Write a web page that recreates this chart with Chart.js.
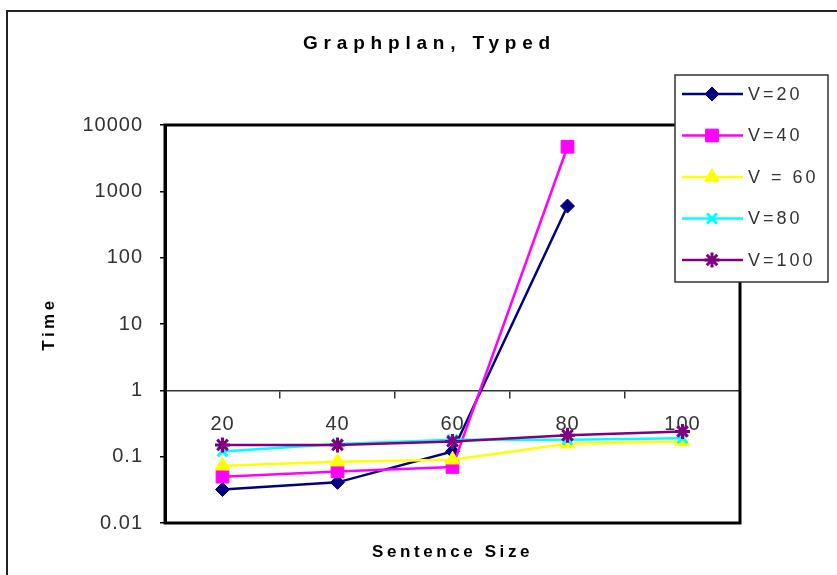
<!DOCTYPE html>
<html>
<head>
<meta charset="utf-8">
<script src="https://cdn.jsdelivr.net/npm/chart.js@4/dist/chart.umd.min.js"></script>
<style>
  html, body { margin: 0; padding: 0; background: #fff; }
  canvas { display: block; }
</style>
</head>
<body>
<canvas id="c" width="837" height="575"></canvas>
<script>
// ---- data ----
const categories = ['20', '40', '60', '80', '100'];
const seriesLabels = ['V=20', 'V=40', 'V = 60', 'V=80', 'V=100'];
const v20  = [0.032, 0.041, 0.12, 600, null];
const v40  = [0.05, 0.06, 0.07, 4700, null];
const v60  = [0.073, 0.084, 0.09, 0.157, 0.17];
const v80  = [0.12, 0.155, 0.18, 0.18, 0.19];
const v100 = [0.15, 0.15, 0.17, 0.21, 0.24];
const yTicks = [0.01, 0.1, 1, 10, 100, 1000, 10000];
const yTickLabels = ['0.01', '0.1', '1', '10', '100', '1000', '10000'];
const chartTitle = 'Graphplan, Typed';
const xTitle = 'Sentence Size';
const yTitle = 'Time';

// ---- styles ----
const colors = ['#000080', '#FF00FF', '#FFFF00', '#00FFFF', '#800080'];
const pointStyles = ['rectRot', 'rect', 'triangle', 'crossRot', 'star'];
const pointRadii = [7, 9, 8.5, 7, 7.5];
const pointBorders = [1, 1, 1, 3, 3];
const FONT = "'Liberation Sans', Arial, sans-serif";

// letter spacing per scale (Chart.js has no option for it)
const LS = { y: { title: '3.5px', ticks: '1px' }, x: { ticks: '1px' }, x2: { title: '3.6px' } };
const SP = Chart.Scale.prototype;
const origDrawTitle = SP.drawTitle, origDrawLabels = SP.drawLabels;
SP.drawTitle = function () {
  const ls = LS[this.id];
  this.ctx.save();
  this.ctx.letterSpacing = (ls && ls.title) || '0px';
  origDrawTitle.apply(this, arguments);
  this.ctx.restore();
};
SP.drawLabels = function () {
  const ls = LS[this.id];
  this.ctx.save();
  this.ctx.letterSpacing = (ls && ls.ticks) || '0px';
  origDrawLabels.apply(this, arguments);
  this.ctx.restore();
};

const allSeries = [v20, v40, v60, v80, v100];
const datasets = allSeries.map((d, i) => ({
  label: seriesLabels[i],
  data: d,
  borderColor: colors[i],
  backgroundColor: colors[i],
  pointBackgroundColor: colors[i],
  pointBorderColor: colors[i],
  pointStyle: pointStyles[i],
  pointRadius: pointRadii[i],
  pointBorderWidth: pointBorders[i],
  borderWidth: 2.5,
  tension: 0,
  spanGaps: false,
  order: 5 - i
}));

const framePlugin = {
  id: 'frame',
  beforeDraw(chart) {
    const ctx = chart.ctx;
    ctx.save();
    ctx.fillStyle = '#fff';
    ctx.fillRect(0, 0, chart.width, chart.height);
    ctx.strokeStyle = '#222';
    ctx.lineWidth = 2;
    ctx.strokeRect(7, 11, chart.width + 20, chart.height + 20);
    ctx.restore();
    const tb = chart.titleBlock;
    if (tb && !tb._lsPatched) {
      const d = tb.draw.bind(tb);
      tb.draw = function (a) {
        chart.ctx.save();
        chart.ctx.letterSpacing = '5.8px';
        d(a);
        chart.ctx.restore();
      };
      tb._lsPatched = true;
    }
  },
  beforeDatasetsDraw(chart) {
    const { ctx, chartArea: a } = chart;
    ctx.save();
    ctx.strokeStyle = '#000';
    ctx.lineWidth = 3;
    ctx.strokeRect(a.left, a.top, a.right - a.left, a.bottom - a.top);
    ctx.restore();
  },
  afterDraw(chart) {
    const ctx = chart.ctx;
    const bx = 675, by = 75, bw = 153, bh = 207;
    ctx.save();
    ctx.fillStyle = '#fff';
    ctx.fillRect(bx, by, bw, bh);
    ctx.strokeStyle = '#333';
    ctx.lineWidth = 1.5;
    ctx.strokeRect(bx, by, bw, bh);
    chart.data.datasets.forEach((ds, i) => {
      const y = 94 + i * 41.5;
      ctx.strokeStyle = ds.borderColor;
      ctx.lineWidth = 2.5;
      ctx.beginPath();
      ctx.moveTo(682, y);
      ctx.lineTo(743, y);
      ctx.stroke();
      ctx.fillStyle = ds.pointBackgroundColor;
      ctx.strokeStyle = ds.pointBorderColor;
      ctx.lineWidth = ds.pointBorderWidth;
      Chart.helpers.drawPoint(ctx, {
        pointStyle: ds.pointStyle, radius: ds.pointRadius, borderWidth: ds.pointBorderWidth, rotation: 0
      }, 712, y);
      ctx.fillStyle = '#333';
      ctx.font = '18px ' + FONT;
      ctx.letterSpacing = '3px';
      ctx.textAlign = 'left';
      ctx.textBaseline = 'middle';
      ctx.fillText(ds.label, 748, y + 1);
      ctx.letterSpacing = '0px';
    });
    ctx.restore();
  }
};

new Chart(document.getElementById('c'), {
  type: 'line',
  data: { labels: categories, datasets },
  plugins: [framePlugin],
  options: {
    responsive: false,
    animation: false,
    devicePixelRatio: 1,
    layout: { padding: { left: 22, right: 0, top: 10, bottom: 0 } },
    plugins: {
      legend: { display: false },
      tooltip: { enabled: false },
      title: {
        display: true,
        text: chartTitle,
        color: '#000',
        font: { family: FONT, size: 19, weight: 'bold', lineHeight: 1.2 },
        padding: { top: 22, bottom: 70.2 }
      }
    },
    scales: {
      x: {
        type: 'category',
        position: { y: 1 },
        offset: true,
        grid: { display: true, drawOnChartArea: false, offset: true, drawTicks: true, tickLength: 7, color: '#333', lineWidth: 1.5 },
        border: { display: true, color: '#333', width: 1.5 },
        ticks: { color: '#333', font: { family: FONT, size: 20 }, padding: 15, maxRotation: 0, autoSkip: false }
      },
      x2: {
        type: 'category',
        labels: categories,
        position: 'bottom',
        grid: { display: false },
        border: { display: false },
        ticks: { display: false },
        title: {
          display: true, text: xTitle, color: '#000',
          font: { family: FONT, size: 17, weight: 'bold', lineHeight: 1.2 },
          padding: { top: 11.6, bottom: 12 }
        }
      },
      y: {
        type: 'logarithmic',
        position: 'left',
        min: 0.01,
        max: 10000,
        afterBuildTicks(scale) { scale.ticks = yTicks.map(v => ({ value: v })); },
        afterFit(scale) { scale.width = 165 - 22; },
        ticks: {
          color: '#333', font: { family: FONT, size: 20 }, padding: 17,
          autoSkip: false,
          callback(value) { const k = yTicks.indexOf(value); return k >= 0 ? yTickLabels[k] : ''; }
        },
        grid: { display: true, drawOnChartArea: false, drawTicks: true, tickLength: 5, color: '#000', lineWidth: 1.5 },
        border: { display: true, color: '#000', width: 3 },
        title: {
          display: true, text: yTitle, color: '#000',
          font: { family: FONT, size: 17, weight: 'bold', lineHeight: 1.2 },
          padding: { top: 17.5, bottom: 0 }
        }
      },
      y2: {
        type: 'linear',
        position: 'right',
        display: true,
        grid: { display: false },
        border: { display: false },
        ticks: { display: false },
        afterFit(scale) { scale.width = 97; }
      }
    }
  }
});
</script>
</body>
</html>
